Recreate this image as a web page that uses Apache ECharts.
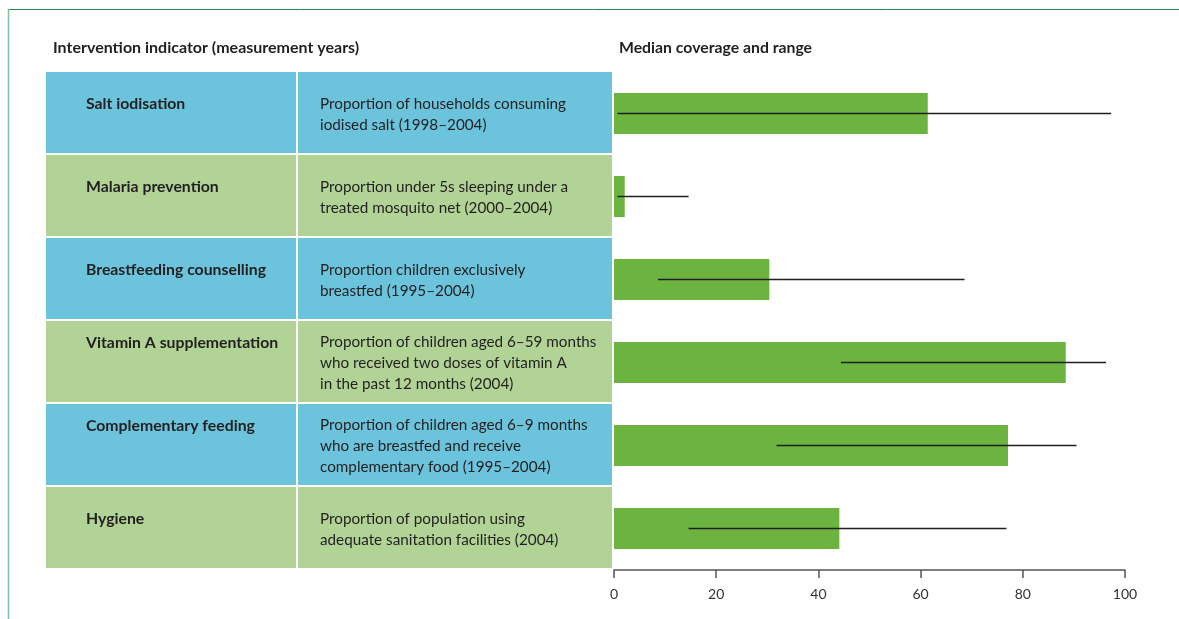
<!DOCTYPE html>
<html>
<head>
<meta charset="utf-8">
<script src="https://cdn.jsdelivr.net/npm/echarts@6/dist/echarts.min.js"></script>
<style>
html,body{margin:0;padding:0;background:#fff;}
#chart{width:1179px;height:619px;}
</style>
</head>
<body>
<div id="chart"></div>
<script>
// ---- Data ----
const indicators = [
  'Salt iodisation',
  'Malaria prevention',
  'Breastfeeding counselling',
  'Vitamin A supplementation',
  'Complementary feeding',
  'Hygiene'
];
const descriptions = [
  'Proportion of households consuming\niodised salt (1998–2004)',
  'Proportion under 5s sleeping under a\ntreated mosquito net (2000–2004)',
  'Proportion children exclusively\nbreastfed (1995–2004)',
  'Proportion of children aged 6–59 months\nwho received two doses of vitamin A\nin the past 12 months (2004)',
  'Proportion of children aged 6–9 months\nwho are breastfed and receive\ncomplementary food (1995–2004)',
  'Proportion of population using\nadequate sanitation facilities (2004)'
];
const medians   = [61.4, 2.1, 30.4, 88.4, 77.1, 44.1];
const rangeLow  = [0.7, 0.7, 8.6, 44.4, 31.8, 14.6];
const rangeHigh = [97.3, 14.6, 68.6, 96.3, 90.5, 76.8];
const headerLeft = 'Intervention indicator (measurement years)';
const headerRight = 'Median coverage and range';

// ---- Style ----
const FONT = 'Lato, "Open Sans", sans-serif';
const TEXT = '#231f20';
const BLUE = '#6bc4db';
const LGREEN = '#b1d396';
const BAR = '#6db33f';
const COL_SPLIT = 251 / 566;

const chart = echarts.init(document.getElementById('chart'));

const tableData = indicators.map((name, i) => [0, i]);
const rangeData = indicators.map((name, i) => [rangeLow[i], rangeHigh[i], i]);

const option = {
  backgroundColor: '#ffffff',
  animation: false,
  textStyle: { fontFamily: FONT },
  title: [
    { text: headerLeft, left: 53, top: 40, padding: 0,
      textStyle: { fontFamily: FONT, fontSize: 16, fontWeight: 'bold', color: TEXT } },
    { text: headerRight, left: 619, top: 40, padding: 0,
      textStyle: { fontFamily: FONT, fontSize: 15.8, fontWeight: 'bold', color: TEXT } }
  ],
  graphic: [
    { type: 'line', shape: { x1: 8, y1: 9.5, x2: 1179, y2: 9.5 }, style: { stroke: '#2a8457', lineWidth: 1 }, silent: true },
    { type: 'line', shape: { x1: 8.5, y1: 9, x2: 8.5, y2: 619 }, style: { stroke: '#7fbf9d', lineWidth: 1.5 }, silent: true }
  ],
  grid: [
    { left: 46, top: 72, width: 566, height: 498 },
    { left: 614, top: 72, width: 511, height: 498 }
  ],
  xAxis: [
    { gridIndex: 0, type: 'value', min: 0, max: 1, show: false },
    { gridIndex: 1, type: 'value', min: 0, max: 100, interval: 20,
      axisLine: { show: true, lineStyle: { color: '#555', width: 1.5 } },
      axisTick: { show: true, length: 8, lineStyle: { color: '#555', width: 1.5 } },
      axisLabel: { color: '#333', fontSize: 14, margin: 17, fontFamily: FONT },
      splitLine: { show: false } }
  ],
  yAxis: [
    { gridIndex: 0, type: 'category', data: indicators, inverse: true, show: false },
    { gridIndex: 1, type: 'category', data: indicators, inverse: true, show: false }
  ],
  series: [
    {
      type: 'custom',
      xAxisIndex: 0, yAxisIndex: 0,
      data: tableData,
      renderItem: function (params, api) {
        const idx = api.value(1);
        const cs = params.coordSys;
        const yc = api.coord([0, idx])[1];
        const band = api.size([0, 1])[1];
        const top = yc - band / 2;
        const x0 = cs.x, w = cs.width;
        const split = x0 + w * COL_SPLIT;
        const fill = idx % 2 === 0 ? BLUE : LGREEN;
        const desc = descriptions[idx];
        const nLines = desc.split('\n').length;
        const lh = 21;
        const textY = yc + 1;
        const firstY = textY - (nLines - 1) * lh / 2;
        return {
          type: 'group',
          children: [
            { type: 'rect', shape: { x: x0, y: top, width: split - x0 - 1, height: band - 2 }, style: { fill: fill } },
            { type: 'rect', shape: { x: split + 1, y: top, width: x0 + w - split - 1, height: band - 2 }, style: { fill: fill } },
            { type: 'text', style: { text: indicators[idx], x: x0 + 40, y: firstY, verticalAlign: 'middle', align: 'left',
                font: 'bold 15.8px ' + FONT, fill: TEXT } },
            { type: 'text', style: { text: desc, x: split + 23, y: textY, verticalAlign: 'middle', align: 'left',
                font: '15.25px ' + FONT, lineHeight: lh, fill: TEXT } }
          ]
        };
      }
    },
    {
      type: 'bar',
      xAxisIndex: 1, yAxisIndex: 1,
      data: medians,
      barWidth: 41,
      itemStyle: { color: BAR }
    },
    {
      type: 'custom',
      xAxisIndex: 1, yAxisIndex: 1,
      data: rangeData,
      z: 5,
      renderItem: function (params, api) {
        const idx = api.value(2);
        const p1 = api.coord([api.value(0), idx]);
        const p2 = api.coord([api.value(1), idx]);
        return {
          type: 'line',
          shape: { x1: p1[0], y1: p1[1], x2: p2[0], y2: p2[1] },
          style: { stroke: '#231f20', lineWidth: 1.5 }
        };
      }
    }
  ]
};
chart.setOption(option);
</script>
</body>
</html>
